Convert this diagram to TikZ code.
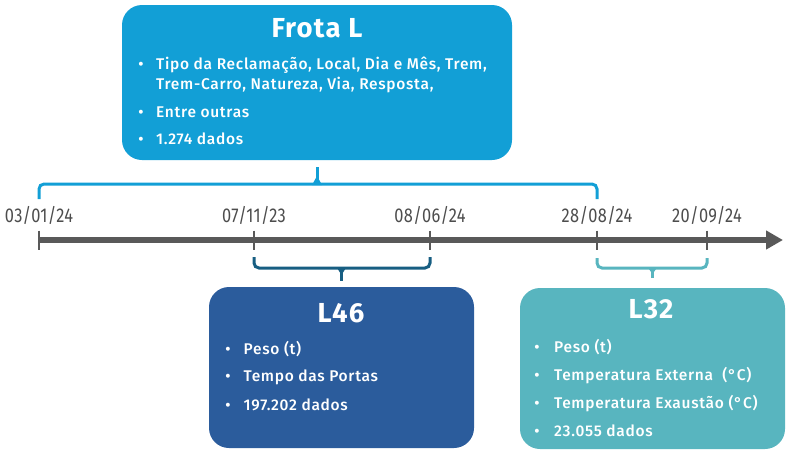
\documentclass[tikz,border=0pt]{standalone}
\usepackage{fontspec}
\setmainfont{Fira Sans}[UprightFont={* Medium},BoldFont={* Bold},LetterSpace=4.5]
\newfontfamily\datefont{Fira Sans}[FakeStretch=0.82,LetterSpace=2]
\usetikzlibrary{arrows.meta}
\definecolor{frotablue}{HTML}{129FD6}
\definecolor{ldarkblue}{HTML}{2B5C9C}
\definecolor{lbracedark}{HTML}{175E82}
\definecolor{lteal}{HTML}{58B5BF}
\definecolor{lineg}{HTML}{595959}
\definecolor{dateg}{HTML}{4D4D4D}

\begin{document}
\begin{tikzpicture}[x=1pt,y=-1pt,
		infobox/.style={fill=#1,rounded corners=20pt,inner sep=0pt},
		boxtitle/.style={anchor=base,text=white,inner sep=0pt,font=\bfseries\fontsize{27.5}{30}\selectfont},
		itemtext/.style={anchor=base west,text=white,inner sep=0pt,font=\fontsize{15.5}{18}\selectfont},
		itembullet/.style={anchor=base,text=white,inner sep=0pt,font=\fontsize{15.5}{18}\selectfont},
		datelabel/.style={anchor=base,text=dateg,inner sep=0pt,font=\datefont\fontsize{20}{21}\selectfont},
		bracket/.style={line width=3pt,rounded corners=5pt}]
	\useasboundingbox (0,0) rectangle (791,453);

	% time line
	\foreach \x[count=\j] in {39,254,430,597,707}
		\coordinate (t\j) at (\x,240);
	\coordinate (tend) at (783,240);
	\draw[lineg,line width=6pt,-{Triangle[length=17pt,width=18pt]}] (t1) -- (tend);
	\foreach \j/\d in {1/{03/01/24},2/{07/11/23},3/{08/06/24},4/{28/08/24},5/{20/09/24}}
	{
		\draw[lineg,line width=2.7pt] (t\j) ++(0,-9.5) -- ++(0,19);
		\node[datelabel] (date\j) at ([yshift=18pt]t\j) {\d};
	}

	% boxes
	\node[infobox=frotablue,minimum width=390pt,minimum height=155pt] (frota) at (317,82.5) {};
	\node[infobox=ldarkblue,minimum width=265pt,minimum height=161pt] (l46) at (341.5,367.5) {};
	\node[infobox=lteal,minimum width=265pt,minimum height=161pt] (l32) at (652.5,368.5) {};

	\node[boxtitle] (frotatitle) at (317,37) {Frota L};
	\node[boxtitle] (l46title) at (341,322) {L46};
	\node[boxtitle] (l32title) at (651,318) {L32};

	\foreach \y/\t[count=\j] in {69/{Tipo da Reclamação, Local, Dia e Mês, Trem,},117/{Entre outras},144/{1.274 dados}}
	{
		\node[itembullet] (fb\j) at (141,\y) {•};
		\node[itemtext] (fi\j) at (156,\y) {\t};
	}
	\node[itemtext] (fi1b) at (156,89) {Trem-Carro, Natureza, Via, Resposta,};

	\foreach \y/\t[count=\j] in {354/{Peso (t)},381.7/{Tempo das Portas},410/{197.202 dados}}
	{
		\node[itembullet] (ab\j) at (228,\y) {•};
		\node[itemtext] (ai\j) at (243.5,\y) {\t};
	}

	\foreach \y/\t[count=\j] in {352.7/{Peso (t)},380/{Temperatura Externa\ \ (°C)},408/{Temperatura Exaustão (°C)},436.7/{23.055 dados}}
	{
		\node[itembullet] (bb\j) at (537,\y) {•};
		\node[itemtext] (bi\j) at (554,\y) {\t};
	}

	% braces
	\draw[bracket,frotablue] (t1 |- 0,199) |- (t4 |- 0,184) -- (t4 |- 0,199);
	\draw[bracket,frotablue] (frota.south |- 0,184) -- ([yshift=-7pt]frota.south);
	\fill[frotablue] (frota.south |- 0,185) ++(-5,0) -- ++(5,-9) -- ++(5,9) -- cycle;

	\draw[bracket,lbracedark] (t2 |- 0,257) |- (t3 |- 0,268) -- (t3 |- 0,257);
	\draw[bracket,lbracedark] (l46.north |- 0,268) -- ([yshift=6pt]l46.north);
	\fill[lbracedark] (l46.north |- 0,267) ++(-5,0) -- ++(5,8) -- ++(5,-8) -- cycle;

	\draw[bracket,lteal] (t4 |- 0,258) |- (t5 |- 0,268) -- (t5 |- 0,258);
	\draw[bracket,lteal] (l32.north |- 0,268) -- ([yshift=10pt]l32.north);
	\fill[lteal] (l32.north |- 0,267) ++(-5,0) -- ++(5,7) -- ++(5,-7) -- cycle;
\end{tikzpicture}
\end{document}
